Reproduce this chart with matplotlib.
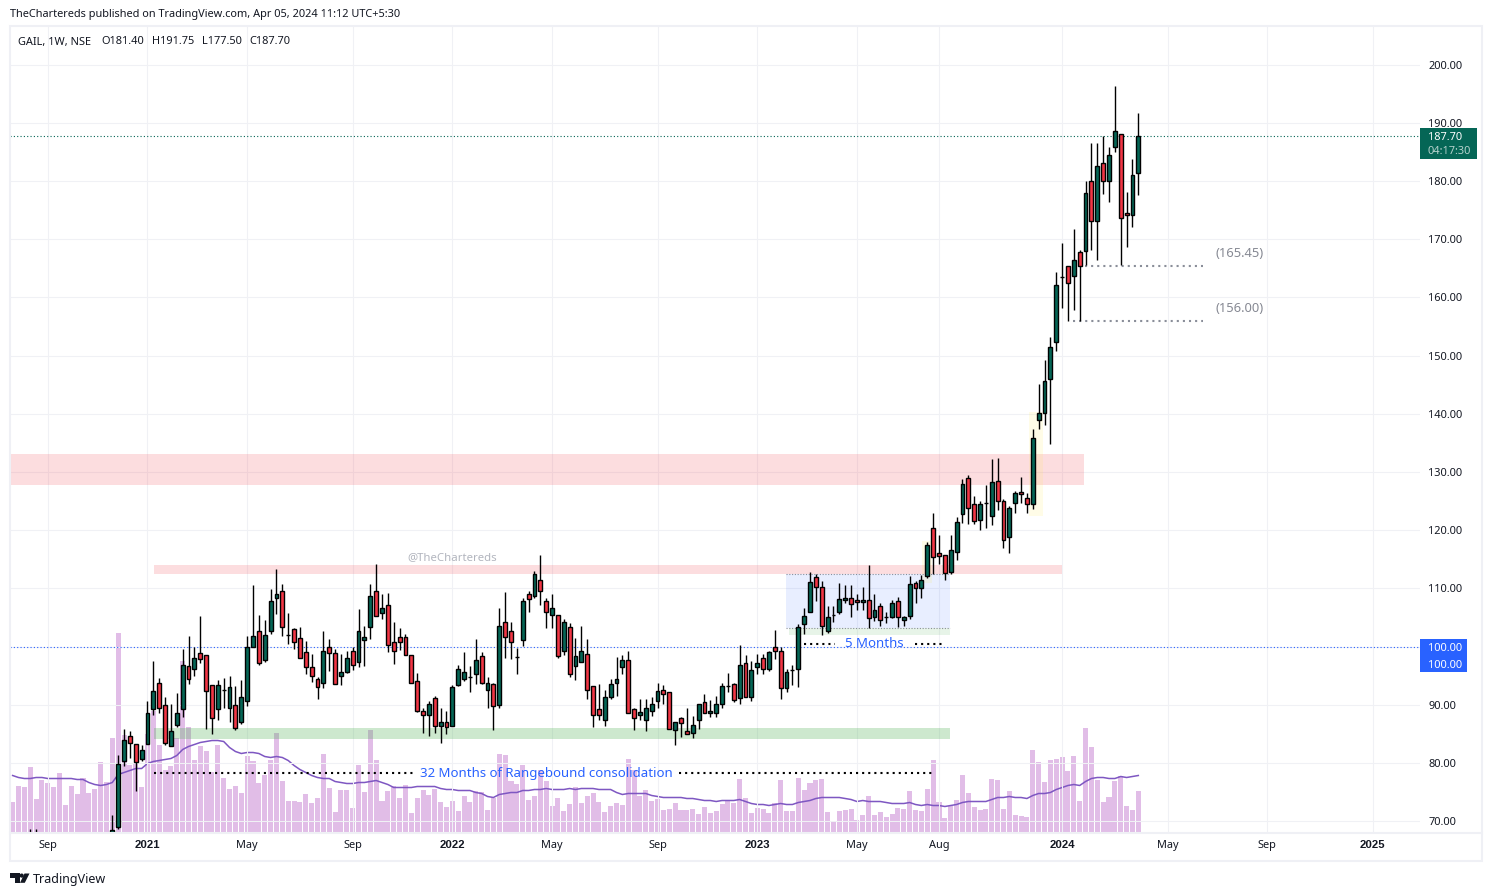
import numpy as np
import matplotlib
matplotlib.use("Agg")
import matplotlib.pyplot as plt
from matplotlib.patches import Rectangle, Polygon, Circle

FONT = "Noto Sans"
plt.rcParams["font.family"] = [FONT, "DejaVu Sans"]

# ---------- data (weekly candles, week 0 = first fully visible candle) ----------
opens = [66.0,69.0,80.4,84.6,83.2,80.6,83.2,89.2,93.8,89.9,82.9,86.5,89.2,96.6,96.1,98.8,98.5,93.3,89.2,92.6,
 89.5,89.9,87.1,90.7,100.0,102.6,97.6,102.6,108.3,109.5,101.9,103.0,101.4,99.0,96.4,94.5,93.8,100.0,98.8,95.0,
 95.6,99.3,97.3,101.2,103.3,109.5,105.8,107.2,100.8,101.6,101.6,98.5,94.0,89.0,88.2,91.1,86.3,87.1,86.3,93.3,
 94.4,94.7,95.2,98.3,92.6,93.5,89.9,104.2,102.6,98.2,101.2,109.0,108.6,111.4,107.9,105.4,105.4,99.2,103.3,96.6,
 97.3,98.7,93.2,89.2,87.3,91.4,93.7,96.4,97.6,89.2,88.2,87.3,88.9,90.6,92.6,92.1,85.6,87.8,85.4,85.1,
 87.3,90.4,88.5,88.5,90.2,93.2,93.5,91.1,97.1,91.4,96.4,98.0,96.2,99.9,99.2,92.8,95.9,96.2,103.8,105.9,
 111.9,110.2,102.6,105.4,105.9,108.0,108.3,108.0,107.6,108.0,105.0,106.9,105.0,105.0,107.8,104.5,105.3,110.9,110.0,112.1,
 120.3,116.0,115.7,112.8,116.2,122.7,128.9,124.4,121.7,124.6,122.4,128.4,125.0,118.8,124.6,126.5,125.6,124.4,139.0,140.1,
 145.9,152.4,163.5,165.3,163.6,167.8,167.9,179.9,173.1,183.0,179.9,185.9,188.0,174.4,174.1,181.4]
highs = [71.0,81.4,85.8,85.5,83.2,83.1,90.6,97.5,94.6,91.3,90.2,92.0,99.6,101.8,99.9,105.2,98.5,93.4,94.2,94.6,
 94.9,93.2,94.2,101.8,110.5,105.4,104.6,109.8,113.4,110.7,105.7,103.2,103.3,100.9,98.7,94.8,102.7,101.3,99.6,98.7,
 99.2,99.9,106.4,103.6,110.7,114.2,109.1,109.2,104.2,103.1,102.1,98.5,95.4,89.4,90.6,91.5,89.4,88.9,93.3,96.9,
 99.1,96.6,101.3,99.1,94.7,93.7,106.6,109.4,104.2,99.7,108.3,109.5,112.9,115.7,108.4,109.0,105.4,104.7,104.0,101.4,
 103.5,101.3,93.2,93.5,92.5,94.4,98.2,98.5,99.2,89.5,91.0,90.9,91.4,93.8,93.3,92.1,87.1,87.9,89.4,88.0,
 90.2,91.8,90.8,91.5,93.8,95.4,93.8,100.2,98.5,97.5,98.7,98.7,99.2,102.8,100.0,96.2,96.8,103.8,106.6,112.8,
 112.4,111.3,107.0,107.0,110.9,110.6,110.5,109.0,110.2,114.0,109.0,107.4,105.9,108.0,108.5,105.2,112.1,111.2,112.3,117.9,
 122.9,119.2,115.7,119.2,122.3,128.7,129.4,125.9,125.0,127.7,132.2,132.4,125.3,124.1,126.7,129.1,126.3,137.3,145.1,149.2,
 153.2,164.4,169.3,165.3,171.7,168.2,179.9,186.5,186.5,187.8,185.9,196.3,188.0,178.1,183.7,191.75]
lows = [65.0,68.6,79.5,80.8,75.1,80.4,83.2,88.2,88.5,83.0,82.9,86.1,87.9,93.6,95.0,97.2,85.9,85.0,87.3,89.5,
 87.1,85.7,86.6,89.8,100.0,96.8,97.4,102.2,105.6,101.8,100.5,99.6,98.0,95.3,93.9,91.0,92.9,95.8,93.5,93.4,
 95.5,96.0,96.4,96.7,101.3,105.2,104.8,99.1,97.0,99.4,98.5,93.7,88.7,85.2,84.7,85.2,83.5,85.0,86.3,93.2,
 94.0,92.1,93.6,93.5,89.5,85.7,89.4,98.0,97.9,95.2,100.1,106.0,108.3,107.1,103.1,103.1,98.0,98.6,94.8,94.2,
 97.3,90.9,86.1,87.4,86.4,90.9,91.5,95.3,88.5,85.6,87.4,85.4,88.1,89.5,90.2,85.8,83.0,84.5,85.0,84.2,
 85.8,88.5,87.9,87.9,89.4,92.1,90.4,90.2,91.3,90.7,95.2,95.3,95.8,97.9,91.0,92.2,93.3,93.0,102.2,105.9,
 107.8,102.0,102.4,104.2,105.5,107.5,105.1,106.3,106.2,103.1,104.3,103.5,104.0,104.9,103.3,103.5,104.8,107.5,108.4,111.7,
 112.5,114.2,111.4,112.4,114.8,121.3,121.0,121.0,120.1,120.3,120.9,123.4,117.0,116.1,123.0,124.6,122.9,123.7,137.4,138.1,
 134.8,150.8,158.2,156.0,157.8,155.9,165.5,168.1,166.4,177.7,176.4,185.0,165.5,168.6,172.1,177.5]
closes = [68.4,79.8,83.9,83.4,80.1,82.3,88.5,92.3,89.4,83.5,85.4,88.5,96.9,94.5,98.0,97.8,92.3,87.8,93.3,92.6,
 93.0,86.0,91.4,100.0,101.8,97.1,101.9,107.9,109.1,103.3,101.9,100.7,98.0,96.4,94.9,93.0,99.2,98.8,93.5,95.6,
 98.1,96.8,102.6,101.7,108.6,105.3,106.6,100.2,99.2,100.8,98.6,93.8,89.0,88.2,90.2,86.3,87.1,86.1,93.0,96.1,
 95.6,94.7,97.6,93.7,93.8,89.7,103.6,101.6,100.7,98.2,107.9,108.1,112.4,109.5,106.0,106.7,98.4,104.2,95.2,98.3,
 99.3,92.6,88.2,88.2,91.4,93.5,94.4,97.6,88.5,87.7,88.7,89.5,90.1,92.3,91.8,85.9,87.0,86.8,85.0,86.5,
 90.1,88.5,88.9,90.2,93.2,93.2,90.8,96.8,91.4,95.9,97.1,96.1,99.0,99.2,92.8,95.7,95.9,103.4,105.2,111.0,
 110.2,103.5,105.0,105.4,108.1,108.3,107.3,107.6,108.0,104.9,106.2,104.5,105.0,107.4,105.0,105.0,110.7,110.0,111.4,117.4,
 115.3,115.6,112.6,116.5,121.4,128.0,123.8,121.5,124.4,124.6,128.2,125.0,118.3,123.8,126.3,126.2,124.4,135.9,140.2,145.7,
 151.4,162.1,163.5,162.4,166.4,165.3,177.9,173.1,182.5,179.9,184.4,188.5,173.7,174.1,181.0,187.7]

# two older candles whose wicks just enter the visible range
early_weeks = [-14, -13]
early_highs = [68.7, 68.7]

first_volume_week = -17
volumes = [32,48,47,67,35,54,51,47,61,29,48,40,56,41,45,72,52,
 96,201,99,69,70,47,100,123,89,64,68,96,173,107,74,88,83,62,89,56,45,48,41,78,73,51,59,74,101,53,33,33,32,40,31,36,80,46,22,
 44,44,26,69,42,104,74,33,43,48,36,49,21,36,44,39,45,32,27,33,23,38,32,43,42,24,36,80,79,53,50,69,34,38,64,53,28,36,23,
 30,47,31,38,41,32,22,28,31,29,75,64,38,44,33,35,24,25,31,24,24,25,20,27,21,23,
 30,33,31,55,36,21,26,25,21,31,54,23,23,56,44,51,54,55,22,13,23,24,25,14,19,38,19,22,17,20,26,25,43,24,23,45,74,32,16,28,
 34,59,41,27,24,25,55,54,25,43,19,18,17,84,72,52,74,75,77,63,78,33,106,87,54,32,37,53,58,28,24,43]
volume_ma = [58,56,55,55,56,56,55,55,55,55,55,54,54,51,49,48,49,
 51,59,61,63,65,65,70,72,73,74,75,78,84,87,89,91,92,93,93,92,86,82,80,81,81,80,77,76,77,76,73,68,64,61,58,56,55,55,52,
 51,50,50,51,51,52,53,51,49,46,46,46,46,47,47,47,47,45,44,44,43,43,43,41,40,37,36,39,40,41,41,43,43,44,44,45,44,44,44,
 45,44,45,45,45,44,44,44,41,39,40,40,40,40,38,37,36,36,36,36,35,35,34,33,33,32,
 33,33,33,34,32,30,29,29,28,29,30,29,29,31,32,33,35,36,36,36,36,35,34,32,33,32,32,32,31,30,30,30,31,29,28,29,28,28,27,28,
 29,31,32,32,32,32,34,36,36,37,36,36,35,38,40,40,41,44,46,48,49,48,52,55,56,56,55,55,57,56,57,58]

tick_weeks = [-11, 6, 23, 41, 58, 75, 93, 110, 127, 141, 162, 180, 197, 215]
tick_labels = ["Sep","2021","May","Sep","2022","May","Sep","2023","May","Aug","2024","May","Sep","2025"]
price_ticks = [70,80,90,100,110,120,130,140,150,160,170,180,190,200]

last_price = 187.70
round_level = 100.0

# ---------- styling ----------
UP = "#056656"; DOWN = "#f23645"; INK = "#131722"; GRID = "#f0f1f5"; FRAME = "#eff0f5"
BLUE = "#2962ff"; GREY = "#8a8e99"

W, H = 1492, 896
fig = plt.figure(figsize=(W/100, H/100), dpi=100, facecolor="white")
L, R, T, B = 10, 1419.5, 26, 833.5
pos = [L/W, 1-B/H, (R-L)/W, (B-T)/H]
x_of = lambda px: (px-112.3)/5.863          # pixel → week, only for annotation placing

# volume pane underneath
ax_v = fig.add_axes(pos)
ax_v.set_xlim(x_of(L), x_of(R)); ax_v.set_ylim(0, B-T)
ax_v.axis("off")
vx = np.arange(first_volume_week, first_volume_week+len(volumes))
ax_v.bar(vx, volumes, width=0.86, color="#9c27b0", alpha=0.3, linewidth=0)
ax_v.plot(np.arange(first_volume_week, first_volume_week+len(volume_ma)), volume_ma, color="#7e57c2", lw=1.1)

# price pane
ax = fig.add_axes(pos, facecolor="none")
ax.set_xlim(x_of(L), x_of(R))
ax.set_ylim(200-(B-64.5)/5.82, 200-(T-64.5)/5.82)
for s in ax.spines.values():
    s.set_visible(False)
ax.set_axisbelow(True)
ax.grid(True, color=GRID, lw=0.75)
ax.yaxis.tick_right()
ax.set_yticks(price_ticks)
ax.set_yticklabels([f"{p:.2f}" for p in price_ticks], fontsize=7.9, color=INK)
ax.set_xticks(tick_weeks)
ax.tick_params(axis="both", length=0)
ax.tick_params(axis="y", pad=6.3)
ax.tick_params(axis="x", pad=4.5)
xlabs = ax.set_xticklabels(tick_labels, fontsize=7.9, color=INK)
for lab, name in zip(xlabs, tick_labels):
    if name.isdigit():
        lab.set_fontfamily("Liberation Sans")
        lab.set_fontweight("bold")
        lab.set_fontsize(8.2)

xl = ax.get_xlim()
def zone(x0, x1, y0, y1, color, alpha):
    ax.add_patch(Rectangle((x0, y0), x1-x0, y1-y0, facecolor=color, alpha=alpha, lw=0, zorder=1))

zone(xl[0], 165.7, 127.75, 133.1, "#f23645", 0.17)
zone(7.1, 162, 112.5, 114.0, "#f23645", 0.17)
zone(7.1, 142.9, 84.1, 86.0, "#4caf50", 0.28)
zone(114.9, 142.9, 103.2, 112.4, BLUE, 0.105)
zone(115.4, 142.9, 102.0, 103.1, "#4caf50", 0.13)
zone(138.1, 139.8, 110.9, 118.1, "#ffeb3b", 0.12)
zone(156.4, 158.7, 122.4, 140.3, "#ffeb3b", 0.12)
for yy in (103.2, 112.4):
    ax.plot([114.9, 142.9], [yy, yy], color=GREY, lw=0.8, ls=(0, (1, 1.5)), zorder=1.5)

# horizontal level lines
ax.axhline(round_level, color=BLUE, lw=0.8, ls=(0, (1, 2)), zorder=1.6)
ax.axhline(last_price, color=UP, lw=0.8, ls=(0, (1, 2)), zorder=1.6)

# candles
wx = np.arange(len(opens))
o, h, l, c = map(np.array, (opens, highs, lows, closes))
ax.vlines(wx, l, h, color="black", lw=1.0, zorder=3)
ax.vlines(early_weeks, 60, early_highs, color="black", lw=1.0, zorder=3)
top = np.maximum(o, c); bot = np.minimum(o, c)
cols = [UP if cc >= oo else DOWN for oo, cc in zip(o, c)]
ax.bar(wx, top-bot, bottom=bot, width=0.66, color=cols, edgecolor="black", linewidth=1.0, zorder=4)

# dotted markers
dot = dict(color="black", lw=1.5, ls=(0, (1, 1.93)), zorder=2.5)
ax.plot([7.1, 51.5], [78.3, 78.3], **dot)
ax.plot([96.7, 140.4], [78.3, 78.3], **dot)
ax.plot([118, 123.3], [100.4, 100.4], **dot)
ax.plot([136.9, 142], [100.4, 100.4], **dot)
gdot = dict(color=GREY, lw=1.5, ls=(0, (1, 1.93)), zorder=2.5)
ax.plot([165.9, 186], [165.45, 165.45], **gdot)
ax.plot([163.9, 186], [156.0, 156.0], **gdot)

# annotations
ax.text(74, 78.2, "32 Months of Rangebound consolidation", color=BLUE, fontsize=9.5, ha="center", va="center", zorder=5)
ax.text(129.9, 100.5, "5 Months", color=BLUE, fontsize=9.5, ha="center", va="center", zorder=5)
ax.text(57.9, 115.3, "@TheChartereds", color="#b2b5be", fontsize=8.2, ha="center", va="center", zorder=5)
ax.text(192.3, 167.5, "(165.45)", color="#868993", fontsize=9.3, ha="center", va="center", zorder=5)
ax.text(192.3, 158.0, "(156.00)", color="#868993", fontsize=9.3, ha="center", va="center", zorder=5)

# chrome drawn in figure pixels
cx = fig.add_axes([0, 0, 1, 1], facecolor="none")
cx.set_xlim(0, W); cx.set_ylim(H, 0); cx.axis("off")
cx.add_patch(Rectangle((10, 26), 1472, 835, fill=False, edgecolor=FRAME, lw=1.5))
cx.plot([10, 1482], [833.5, 833.5], color=FRAME, lw=1.5)
cx.add_patch(Rectangle((1420, 128), 57, 31, facecolor=UP, lw=0))
cx.text(1428, 137.5, f"{last_price:.2f}", color="white", fontsize=7.9, va="center")
cx.text(1428, 151.5, "04:17:30", color="#b4d1cc", fontsize=7.9, va="center")
cx.add_patch(Rectangle((1420, 639), 47, 33.5, facecolor=BLUE, lw=0))
cx.text(1428, 648.5, f"{round_level:.2f}", color="white", fontsize=7.9, va="center")
cx.text(1428, 665, f"{round_level:.2f}", color="white", fontsize=7.9, va="center")
cx.text(10, 14, "TheChartereds published on TradingView.com, Apr 05, 2024 11:12 UTC+5:30",
        color=INK, fontsize=7.9, va="center")
cx.text(18, 42, "GAIL, 1W, NSE", color=INK, fontsize=7.9, va="center")
for xt, s in [(101, "O181.40"), (152, "H191.75"), (202, "L177.50"), (249, "C187.70")]:
    cx.text(xt, 42, s, color=INK, fontsize=7.9, va="center")
# TradingView mark
cx.add_patch(Polygon([(10,873.5),(19.5,873.5),(19.5,882.8),(15,882.8),(15,877.7),(10,877.7)], facecolor=INK, lw=0))
cx.add_patch(Circle((21.7,875.6), 2.1, facecolor=INK, lw=0))
cx.add_patch(Polygon([(24.5,873.5),(29.5,873.5),(24.8,882.8),(20,882.8)], facecolor=INK, lw=0))
cx.text(33, 879, "TradingView", color=INK, fontsize=9.0, va="center")

fig.savefig("out.png", dpi=100, facecolor="white")
